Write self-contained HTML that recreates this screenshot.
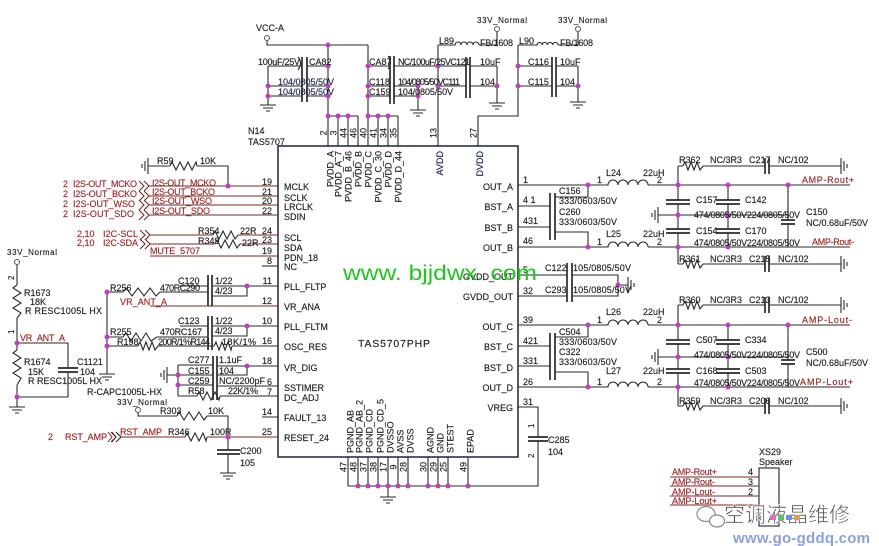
<!DOCTYPE html>
<html><head><meta charset="utf-8"><style>
html,body{margin:0;padding:0;background:#fff;}
svg{display:block}
text{font-family:"Liberation Sans",sans-serif;font-size:9px;fill:#222;stroke:#222;stroke-width:0.15}
.r{fill:#a02828;stroke:#a02828}
.n{fill:#1c2450;stroke:#1c2450}
.s{font-size:8px}
</style></head><body>
<svg width="879" height="546" viewBox="0 0 879 546" xmlns="http://www.w3.org/2000/svg">
<defs>
 <g id="gd"><path d="M0 0v7M-8 7h16M-5 10h10M-2 13h4"/></g>
 <g id="gl"><path d="M0 0h-5M-5 -8v16M-8 -5v10M-11 -2v4"/></g>
 <g id="gr"><path d="M0 0h5M5 -8v16M8 -5v10M11 -2v4"/></g>
</defs>
<rect width="879" height="546" fill="#fff"/>

<g stroke="#2a2a2a" fill="none" stroke-width="1.1">
<!-- TOP POWER -->
<path d="M267 41V45H368M328 45V146M268 66H302M307 66H328M268 86H302M307 86H328M268 96H302M307 96H328M268 66V98"/>
<use href="#gd" x="268" y="98"/>
<path d="M328 116H358M338 116V146M348 116V146M358 116V146"/>
<path d="M368 45V146M368 66H390M394 66H466M470 66H497M368 86H390M394 86H418M368 96H390M394 96H418M418 86V103"/>
<use href="#gd" x="418" y="103"/>
<path d="M368 116H398M378 116V146M388 116V146M398 116V146"/>
<path d="M438 45V146M438 45H455a3 3 0 0 1 6 0a3 3 0 0 1 6 0a3 3 0 0 1 6 0a3 3 0 0 1 6 0M479 45H497V32"/>
<path d="M438 86H466M470 86H497M497 66V96"/>
<use href="#gd" x="497" y="96"/>
<path d="M518 45V116H478V146M518 45H537a2.6 2.6 0 0 1 5.25 0a2.6 2.6 0 0 1 5.25 0a2.6 2.6 0 0 1 5.25 0a2.6 2.6 0 0 1 5.25 0M558 45H578V32"/>
<path d="M518 66H552M556 66H578M518 86H552M556 86H578M578 66V95"/>
<use href="#gd" x="578" y="95"/>
<path d="M298 57q5 6 0 13M388 56q5 6 0 13"/>
<path stroke-width="1.7" d="M302 57V102M307 57V102M390 56V104M394 56V104M466 57V98M470 57V98M552 57V97M556 57V97"/>

<!-- CHIP BOX -->
<rect x="278" y="146" width="240" height="311" stroke="#1c2040" stroke-width="1.5"/>

<!-- LEFT -->
<path d="M153 166H170"/><use href="#gl" x="153" y="166"/>
<polyline points="170,166 172,162 176,170 180,162 184,170 188,162 192,170 196,162 197,166"/>
<path d="M197 166H228V186"/>
<g stroke="#7a2a2a">
<path d="M139 181l5 5-5 5M144 181l5 5-5 5M149 186H278"/>
<path d="M139 191l5 5-5 5M144 191l5 5-5 5M149 196H278"/>
<path d="M139 200l5 5-5 5M144 200l5 5-5 5M149 205H278"/>
<path d="M139 210l5 5-5 5M144 210l5 5-5 5M149 215H278"/>
<path d="M140 230l5 5-5 5M145 230l5 5-5 5M150 235H213M238 235H278"/>
<path d="M140 239l5 5-5 5M145 239l5 5-5 5M150 244H215M240 244H278"/>
<path d="M150 256H278"/>
<path d="M150 306H278"/>
<path d="M121 437H185M207 437H278"/>
</g>
<polyline points="213,235 215,231 219,239 223,231 227,239 231,231 235,239 238,235"/>
<polyline points="215,244 217,240 221,248 225,240 229,248 233,240 237,248 240,244"/>
<path d="M262 266H278"/>
<!-- 3.3V left divider -->
<path d="M17 264.5V285"/>
<polyline points="17,285 13,288 21,293 13,298 21,303 13,308 21,313 17,318"/>
<path d="M17 318V350"/>
<polyline points="17,350 13,353 21,358 13,363 21,368 13,373 21,378 17,385"/>
<path d="M17 385V400M17 397H68V372M68 368V343H17"/>
<use href="#gd" x="17" y="400"/>
<path stroke-width="1.7" d="M58 368H78M58 372H78"/>
<!-- PLL -->
<path d="M107 290V367"/><use href="#gd" x="107" y="367"/>
<path d="M107 292H123M160 292H208"/>
<polyline points="123,292 126,288 132,296 138,288 144,296 150,288 156,296 160,292"/>
<path d="M180 286H208M212 286H278M212 296H247V286"/>
<path d="M107 337H123M157 337H208"/>
<polyline points="123,337 126,333 131,341 136,333 141,341 146,333 151,341 157,337"/>
<path d="M180 326H208M212 326H278M212 336H247V326"/>
<path d="M107 346H138M158 346H214M232 346H278"/>
<polyline points="138,346 140,342 143,350 146,342 149,350 152,342 155,350 158,346"/>
<polyline points="214,346 216,342 219,350 222,342 225,350 228,342 231,350 232,346"/>
<path stroke-width="1.7" d="M208 275V306M212 275V306M208 316V350M212 316V350"/>
<!-- VR_DIG -->
<path d="M172 375H178M178 365V396M178 365H213M178 375H213M178 385H213M178 396H197M220 396H278"/>
<use href="#gl" x="172" y="375"/>
<polyline points="197,396 199,392 203,400 207,392 211,400 215,392 219,400 220,396"/>
<path d="M217 366H278M217 375H247V366M217 386H278"/>
<path stroke-width="1.7" d="M213 356V400M217 356V400"/>
<!-- FAULT / RESET -->
<path d="M138 413V416H177M207 416H228V437M262 417H278"/>
<polyline points="177,416 179,412 184,420 189,412 194,420 199,412 204,420 207,416"/>
<path d="M111 432l5 5-5 5M116 432l5 5-5 5M228 437V450M228 454V466"/>
<polyline points="185,437 187,433 191,441 195,433 199,441 203,433 206,441 207,437"/>
<path stroke-width="1.7" d="M217 450H240M217 454H240"/>
<use href="#gd" x="228" y="466"/>

<!-- RIGHT A/B -->
<path d="M518 185H608a5 5 0 0 1 10 0a5 5 0 0 1 10 0a5 5 0 0 1 10 0a5 5 0 0 1 10 0M648 185H850"/>
<path d="M518 206H550M555 197H588V185M518 227H550M555 232H588V247"/>
<path stroke-width="1.7" d="M550 193V240M555 193V240"/>
<path d="M518 247H608a5 5 0 0 1 10 0a5 5 0 0 1 10 0a5 5 0 0 1 10 0a5 5 0 0 1 10 0M648 247H850"/>
<path d="M678 166V200M678 204V229M678 233V264M728 185V200M728 204V229M728 233V247M788 185V220M788 224V247M663 215H788"/>
<use href="#gl" x="663" y="215"/>
<path stroke-width="1.7" d="M666 200H690M666 204H690M666 229H690M666 233H690M716 200H740M716 204H740M716 229H740M716 233H740M781 220H795M781 224H795"/>
<path d="M678 166H683M703 166H765M769 166H836"/>
<polyline points="683,166 685,162 688,170 691,162 694,170 697,162 700,170 703,166"/>
<use href="#gr" x="836" y="166"/>
<path d="M678 264H683M703 264H765M769 264H836"/>
<polyline points="683,264 685,260 688,268 691,260 694,268 697,260 700,268 703,264"/>
<use href="#gr" x="836" y="264"/>
<path stroke-width="1.7" d="M765 158V174M769 158V174M765 256V272M769 256V272"/>
<!-- GVDD -->
<path d="M518 275H567M518 296H567M572 275H618V296H572M618 285H623"/>
<use href="#gr" x="623" y="285"/>
<path stroke-width="1.7" d="M567 263V302M572 263V302"/>
<!-- RIGHT C/D -->
<path d="M518 325H608a5 5 0 0 1 10 0a5 5 0 0 1 10 0a5 5 0 0 1 10 0a5 5 0 0 1 10 0M648 325H850"/>
<path d="M518 346H550M555 337H588V325M518 366H550M555 372H588V387"/>
<path stroke-width="1.7" d="M550 333V380M555 333V380"/>
<path d="M518 387H608a5 5 0 0 1 10 0a5 5 0 0 1 10 0a5 5 0 0 1 10 0a5 5 0 0 1 10 0M648 387H850"/>
<path d="M678 305V340M678 344V369M678 373V406M728 325V340M728 344V369M728 373V387M788 325V360M788 364V387M663 357H788"/>
<use href="#gl" x="663" y="357"/>
<path stroke-width="1.7" d="M666 340H690M666 344H690M666 369H690M666 373H690M716 340H740M716 344H740M716 369H740M716 373H740M781 360H795M781 364H795"/>
<path d="M678 305H683M703 305H765M769 305H836"/>
<polyline points="683,305 685,301 688,309 691,301 694,309 697,301 700,309 703,305"/>
<use href="#gr" x="836" y="305"/>
<path d="M678 406H683M703 406H765M769 406H836"/>
<polyline points="683,406 685,402 688,410 691,402 694,410 697,402 700,410 703,406"/>
<use href="#gr" x="836" y="406"/>
<path stroke-width="1.7" d="M765 297V313M769 297V313M765 398V414M769 398V414"/>
<!-- VREG / bottom -->
<path d="M518 407H538V437M538 441V486H348"/>
<path stroke-width="1.7" d="M528 437H548M528 441H548"/>
<path d="M348 457V486M358 457V486M368 457V486M378 457V486M388 457V486M398 457V486M408 457V486M428 457V486M438 457V486M448 457V486M468 457V486M388 486V490"/>
<use href="#gd" x="388" y="490"/>
<!-- speaker -->
<path d="M670 477H759M670 486H759M670 496H759M670 505H759" stroke="#7a2a2a"/>
<rect x="759" y="468" width="20" height="58" stroke="#1c2040"/>
</g>

<!-- power symbols -->
<g stroke="#555" fill="#fff" stroke-width="1">
<circle cx="267" cy="38" r="2.5"/><circle cx="497" cy="29" r="2.5"/><circle cx="578" cy="29" r="2.5"/>
<circle cx="17" cy="262" r="2.5"/><circle cx="138" cy="410" r="2.5"/>
</g>

<!-- junction dots -->
<g fill="#c23cc2">
<circle cx="328" cy="45" r="2.5"/><circle cx="328" cy="66" r="2.5"/><circle cx="328" cy="86" r="2.5"/><circle cx="328" cy="96" r="2.5"/>
<circle cx="268" cy="86" r="2.5"/><circle cx="268" cy="96" r="2.5"/><circle cx="328" cy="116" r="2.5"/><circle cx="338" cy="116" r="2.5"/><circle cx="348" cy="116" r="2.5"/>
<circle cx="368" cy="66" r="2.5"/><circle cx="368" cy="86" r="2.5"/><circle cx="368" cy="96" r="2.5"/><circle cx="418" cy="86" r="2.5"/><circle cx="418" cy="96" r="2.5"/>
<circle cx="368" cy="116" r="2.5"/><circle cx="378" cy="116" r="2.5"/><circle cx="388" cy="116" r="2.5"/>
<circle cx="438" cy="66" r="2.5"/><circle cx="438" cy="86" r="2.5"/><circle cx="497" cy="86" r="2.5"/>
<circle cx="518" cy="66" r="2.5"/><circle cx="518" cy="86" r="2.5"/><circle cx="578" cy="86" r="2.5"/>
<circle cx="228" cy="186" r="2.5"/><circle cx="17" cy="343" r="2.5"/><circle cx="17" cy="397" r="2.5"/>
<circle cx="107" cy="292" r="2.5"/><circle cx="107" cy="337" r="2.5"/><circle cx="107" cy="346" r="2.5"/>
<circle cx="247" cy="286" r="2.5"/><circle cx="247" cy="326" r="2.5"/><circle cx="178" cy="375" r="2.5"/><circle cx="178" cy="385" r="2.5"/>
<circle cx="247" cy="366" r="2.5"/><circle cx="228" cy="437" r="2.5"/>
<circle cx="588" cy="185" r="2.5"/><circle cx="678" cy="185" r="2.5"/><circle cx="728" cy="185" r="2.5"/><circle cx="788" cy="185" r="2.5"/>
<circle cx="678" cy="215" r="2.5"/><circle cx="728" cy="215" r="2.5"/>
<circle cx="588" cy="247" r="2.5"/><circle cx="678" cy="247" r="2.5"/><circle cx="728" cy="247" r="2.5"/>
<circle cx="618" cy="285" r="2.5"/>
<circle cx="588" cy="325" r="2.5"/><circle cx="678" cy="325" r="2.5"/><circle cx="728" cy="325" r="2.5"/><circle cx="788" cy="325" r="2.5"/>
<circle cx="678" cy="357" r="2.5"/><circle cx="728" cy="357" r="2.5"/>
<circle cx="588" cy="387" r="2.5"/><circle cx="678" cy="387" r="2.5"/><circle cx="728" cy="387" r="2.5"/>
<circle cx="358" cy="486" r="2.5"/><circle cx="368" cy="486" r="2.5"/><circle cx="378" cy="486" r="2.5"/><circle cx="388" cy="486" r="2.5"/>
<circle cx="398" cy="486" r="2.5"/><circle cx="408" cy="486" r="2.5"/><circle cx="428" cy="486" r="2.5"/><circle cx="438" cy="486" r="2.5"/>
<circle cx="448" cy="486" r="2.5"/><circle cx="468" cy="486" r="2.5"/>
</g>

<!-- TOP TEXT -->
<text x="256" y="31">VCC-A</text>
<text x="258" y="65" textLength="42">100uF/25V</text>
<text x="309" y="65">CA82</text>
<text x="278" y="85" class="n" textLength="56">104/0805/50V</text>
<text x="278" y="95" class="n" textLength="56">104/0805/50V</text>
<text x="369" y="65">CA87</text>
<text x="398" y="65" textLength="72">NC/100uF/25VC121</text>
<text x="369" y="85">C118</text>
<text x="369" y="95">C159</text>
<text x="398" y="85" textLength="62">104/0805/50VC111</text>
<text x="398" y="95" textLength="55">104/0805/50V</text>
<text x="439" y="44">L89</text>
<text x="480" y="46" textLength="33">FB/1608</text>
<text x="477" y="23" class="s" textLength="50">33V_Normal</text>
<text x="480" y="65">10uF</text>
<text x="480" y="85">104</text>
<text x="519" y="44">L90</text>
<text x="560" y="46" textLength="33">FB/1608</text>
<text x="558" y="23" class="s" textLength="49">33V_Normal</text>
<text x="528" y="65">C116</text>
<text x="528" y="85">C115</text>
<text x="560" y="65">10uF</text>
<text x="560" y="85">104</text>
<text x="248" y="134">N14</text>
<text x="248" y="145">TAS5707</text>

<!-- top pin numbers -->
<g text-anchor="middle">
<text transform="translate(326.5,133) rotate(-90)">2</text>
<text transform="translate(336.5,133) rotate(-90)">3</text>
<text transform="translate(346.5,133) rotate(-90)">44</text>
<text transform="translate(356.5,133) rotate(-90)">46</text>
<text transform="translate(366.5,133) rotate(-90)">40</text>
<text transform="translate(376.5,133) rotate(-90)">41</text>
<text transform="translate(386.5,133) rotate(-90)">34</text>
<text transform="translate(396.5,133) rotate(-90)">35</text>
<text transform="translate(436.5,133) rotate(-90)">13</text>
<text transform="translate(476.5,133) rotate(-90)">27</text>
</g>
<!-- top pin names -->
<g text-anchor="end">
<text transform="translate(333.5,151) rotate(-90)">PVDD_A</text>
<text transform="translate(341.5,151) rotate(-90)">PVDD_A_7</text>
<text transform="translate(351.5,151) rotate(-90)">PVDD_B_46</text>
<text transform="translate(361.5,151) rotate(-90)">PVDD_B</text>
<text transform="translate(371.5,151) rotate(-90)">PVDD_C</text>
<text transform="translate(381.5,151) rotate(-90)">PVDD_C_30</text>
<text transform="translate(391.5,151) rotate(-90)">PVDD_D</text>
<text transform="translate(401.5,151) rotate(-90)">PVDD_D_44</text>
<text transform="translate(443,151) rotate(-90)" class="n">AVDD</text>
<text transform="translate(483,151) rotate(-90)" class="n">DVDD</text>
</g>

<!-- box left labels -->
<text x="284" y="190">MCLK</text>
<text x="284" y="201">SCLK</text>
<text x="284" y="210">LRCLK</text>
<text x="284" y="220">SDIN</text>
<text x="284" y="241">SCL</text>
<text x="284" y="251">SDA</text>
<text x="284" y="261">PDN_18</text>
<text x="284" y="270">NC</text>
<text x="284" y="290">PLL_FLTP</text>
<text x="284" y="310">VR_ANA</text>
<text x="284" y="330">PLL_FLTM</text>
<text x="284" y="350">OSC_RES</text>
<text x="284" y="371">VR_DIG</text>
<text x="284" y="391">SSTIMER</text>
<text x="284" y="401">DC_ADJ</text>
<text x="284" y="421">FAULT_13</text>
<text x="284" y="441">RESET_24</text>
<!-- box right labels -->
<g text-anchor="end">
<text x="513" y="190">OUT_A</text>
<text x="513" y="210">BST_A</text>
<text x="513" y="231">BST_B</text>
<text x="513" y="251">OUT_B</text>
<text x="513" y="280">GVDD_OUT</text>
<text x="513" y="300">GVDD_OUT</text>
<text x="513" y="330">OUT_C</text>
<text x="513" y="350">BST_C</text>
<text x="513" y="371">BST_D</text>
<text x="513" y="391">OUT_D</text>
<text x="513" y="411">VREG</text>
</g>
<text x="358" y="347" style="font-size:10.5px" textLength="72">TAS5707PHP</text>

<!-- bottom pins -->
<g text-anchor="middle">
<text transform="translate(346.5,467) rotate(-90)">47</text>
<text transform="translate(356.5,467) rotate(-90)">48</text>
<text transform="translate(366.5,467) rotate(-90)">37</text>
<text transform="translate(376.5,467) rotate(-90)">38</text>
<text transform="translate(386.5,467) rotate(-90)">17</text>
<text transform="translate(396.5,467) rotate(-90)">9</text>
<text transform="translate(406.5,467) rotate(-90)">28</text>
<text transform="translate(426.5,467) rotate(-90)">30</text>
<text transform="translate(436.5,467) rotate(-90)">29</text>
<text transform="translate(446.5,467) rotate(-90)">25</text>
<text transform="translate(466.5,467) rotate(-90)">49</text>
</g>
<g>
<text transform="translate(353.5,453) rotate(-90)">PGND_AB</text>
<text transform="translate(362.5,453) rotate(-90)">PGND_AB_2</text>
<text transform="translate(372.5,453) rotate(-90)">PGND_CD</text>
<text transform="translate(383.5,453) rotate(-90)">PGND_CD_5</text>
<text transform="translate(393.5,453) rotate(-90)">DVSSO</text>
<text transform="translate(403.5,453) rotate(-90)">AVSS</text>
<text transform="translate(413.5,453) rotate(-90)">DVSS</text>
<text transform="translate(433.5,453) rotate(-90)">AGND</text>
<text transform="translate(443.5,453) rotate(-90)">GND</text>
<text transform="translate(453.5,453) rotate(-90)">STEST</text>
<text transform="translate(473.5,453) rotate(-90)">EPAD</text>
</g>

<!-- LEFT TEXT -->
<text x="157" y="164">R59</text>
<text x="200" y="164">10K</text>
<text x="63" y="187" class="r">2</text><text x="73" y="187" class="r" textLength="64">I2S-OUT_MCKO</text>
<text x="63" y="197" class="r">2</text><text x="73" y="197" class="r" textLength="64">I2S-OUT_BCKO</text>
<text x="63" y="207" class="r">2</text><text x="73" y="207" class="r" textLength="62">I2S-OUT_WSO</text>
<text x="63" y="217" class="r">2</text><text x="73" y="217" class="r" textLength="61">I2S-OUT_SDO</text>
<text x="152" y="186" class="r" textLength="64">I2S-OUT_MCKO</text>
<text x="152" y="195" class="r" textLength="63">I2S-OUT_BCKO</text>
<text x="152" y="204" class="r" textLength="60">I2S-OUT_WSO</text>
<text x="152" y="214" class="r" textLength="58">I2S-OUT_SDO</text>
<text x="77" y="237" class="r">2,10</text><text x="103" y="237" class="r" textLength="35">I2C-SCL</text>
<text x="77" y="246" class="r">2,10</text><text x="103" y="246" class="r" textLength="35">I2C-SDA</text>
<text x="198" y="234">R354</text><text x="240" y="234">22R</text>
<text x="198" y="244">R349</text><text x="242" y="246">22R</text>
<text x="150" y="254" class="r" textLength="50">MUTE_5707</text>
<g text-anchor="end">
<text x="272" y="185">19</text><text x="272" y="195">21</text><text x="272" y="204">20</text><text x="272" y="214">22</text>
<text x="272" y="234">24</text><text x="272" y="243">23</text><text x="272" y="254">19</text><text x="272" y="264">8</text>
<text x="272" y="284">11</text><text x="272" y="304">12</text><text x="272" y="324">10</text><text x="272" y="344">16</text>
<text x="272" y="364">18</text><text x="272" y="385">6</text><text x="272" y="395">7</text>
<text x="272" y="415">14</text><text x="272" y="435">25</text>
</g>
<text x="7" y="255" class="s" textLength="50">33V_Normal</text>
<text transform="translate(14,280) rotate(-90)" class="s">2</text>
<text transform="translate(14,334) rotate(-90)" class="s">1</text>
<text x="24" y="296">R1673</text>
<text x="30" y="305">18K</text>
<text x="25" y="314" textLength="77">R RESC1005L HX</text>
<text x="20" y="341" class="r" textLength="45">VR_ANT_A</text>
<text x="24" y="365">R1674</text>
<text x="28" y="375">15K</text>
<text x="28" y="384" textLength="74">R RESC1005L HX</text>
<text x="77" y="365">C1121</text>
<text x="80" y="375">104</text>
<text x="87" y="395" textLength="75">R-CAPC1005L-HX</text>
<text x="178" y="284">C120</text>
<text x="215" y="284">1/22</text>
<text x="110" y="291">R256</text>
<text x="160" y="291" textLength="40">470RC290</text>
<text x="215" y="294">4/23</text>
<text x="120" y="305" class="r" textLength="47">VR_ANT_A</text>
<text x="178" y="324">C123</text>
<text x="215" y="324">1/22</text>
<text x="110" y="335">R255</text>
<text x="160" y="335" textLength="42">470RC167</text>
<text x="215" y="334">4/23</text>
<text x="117" y="345">R198</text>
<text x="158" y="345" textLength="52">200R/1%R144</text>
<text x="222" y="345" textLength="34">18K/1%</text>
<text x="188" y="363">C277</text>
<text x="219" y="363">1.1uF</text>
<text x="188" y="374">C155</text>
<text x="219" y="374">104</text>
<text x="188" y="384">C259</text>
<text x="219" y="384" textLength="46">NC/2200pF</text>
<text x="188" y="394">R58</text>
<text x="228" y="394" textLength="30">22K/1%</text>
<text x="117" y="405" class="s" textLength="50">33V_Normal</text>
<text x="160" y="414">R303</text>
<text x="208" y="414">10K</text>
<text x="48" y="440" class="r">2</text>
<text x="65" y="440" class="r" textLength="42">RST_AMP</text>
<path d="M108 432l4 5-4 5M112 432l4 5-4 5" stroke="#7a2a2a" fill="none"/>
<text x="120" y="435" class="r" textLength="42">RST_AMP</text>
<text x="168" y="435">R346</text>
<text x="210" y="435">100R</text>
<text x="240" y="454">C200</text>
<text x="240" y="466">105</text>

<!-- RIGHT TEXT -->
<text x="523" y="183">1</text>
<text x="523" y="203">4 1</text>
<text x="523" y="224">431</text>
<text x="523" y="244">46</text>
<text x="523" y="273">5</text>
<text x="523" y="294">32</text>
<text x="523" y="323">39</text>
<text x="523" y="344">421</text>
<text x="523" y="364">331</text>
<text x="523" y="385">26</text>
<text x="523" y="405">31</text>
<text x="606" y="176">L24</text><text x="643" y="176">22uH</text><text x="597" y="183">1</text><text x="657" y="183">2</text>
<text x="606" y="237">L25</text><text x="643" y="237">22uH</text><text x="597" y="245">1</text><text x="657" y="245">2</text>
<text x="606" y="315">L26</text><text x="643" y="315">22uH</text><text x="597" y="323">1</text><text x="657" y="323">2</text>
<text x="606" y="374">L27</text><text x="643" y="374">22uH</text><text x="597" y="385">1</text><text x="657" y="385">2</text>
<text x="559" y="194">C156</text><text x="559" y="204" textLength="58">333/0603/50V</text>
<text x="559" y="215">C260</text><text x="559" y="225" textLength="58">333/0603/50V</text>
<text x="559" y="335">C504</text><text x="559" y="345" textLength="58">333/0603/50V</text>
<text x="559" y="355">C322</text><text x="559" y="365" textLength="58">333/0603/50V</text>
<text x="545" y="271">C122</text><text x="573" y="271" textLength="58">105/0805/50V</text>
<text x="545" y="293">C293</text><text x="573" y="293" textLength="58">105/0805/50V</text>
<text x="679" y="163">R362</text><text x="710" y="163">NC/3R3</text><text x="749" y="163">C217</text><text x="778" y="163">NC/102</text>
<text x="679" y="262">R361</text><text x="710" y="262">NC/3R3</text><text x="749" y="262">C215</text><text x="778" y="262">NC/102</text>
<text x="679" y="303">R360</text><text x="710" y="303">NC/3R3</text><text x="749" y="303">C213</text><text x="778" y="303">NC/102</text>
<text x="679" y="404">R359</text><text x="710" y="404">NC/3R3</text><text x="749" y="404">C206</text><text x="778" y="404">NC/102</text>
<text x="696" y="203">C157</text><text x="745" y="203">C142</text>
<text x="694" y="218" textLength="106">474/0805/50V224/0805/50V</text>
<text x="696" y="234">C154</text><text x="745" y="234">C170</text>
<text x="694" y="246" textLength="106">474/0805/50V224/0805/50V</text>
<text x="696" y="343">C507</text><text x="745" y="343">C334</text>
<text x="694" y="358" textLength="106">474/0805/50V224/0805/50V</text>
<text x="696" y="374">C168</text><text x="745" y="374">C503</text>
<text x="694" y="386" textLength="106">474/0805/50V224/0805/50V</text>
<text x="806" y="215">C150</text><text x="806" y="226" textLength="62">NC/0.68uF/50V</text>
<text x="806" y="355">C500</text><text x="806" y="366" textLength="62">NC/0.68uF/50V</text>
<text x="802" y="183" class="r" textLength="52">AMP-Rout+</text>
<text x="812" y="245" class="r" textLength="42">AMP-Rout-</text>
<text x="802" y="323" class="r" textLength="50">AMP-Lout-</text>
<text x="800" y="385" class="r" textLength="53">AMP-Lout+</text>
<text x="548" y="443">C285</text>
<text x="548" y="455">104</text>
<text transform="translate(534,428) rotate(-90)" class="s">1</text>
<text transform="translate(534,458) rotate(-90)" class="s">2</text>

<!-- speaker -->
<text x="759" y="455">XS29</text>
<text x="759" y="465">Speaker</text>
<text x="748" y="475">4</text><text x="748" y="485">3</text><text x="748" y="495">2</text>
<text x="672" y="475" class="r" textLength="45">AMP-Rout+</text>
<text x="672" y="485" class="r" textLength="43">AMP-Rout-</text>
<text x="672" y="495" class="r" textLength="43">AMP-Lout-</text>
<text x="672" y="504" class="r" textLength="45">AMP-Lout+</text>

<!-- watermarks -->
<text x="343" y="280" style="font-size:21px;fill:#1ec81e;stroke:none" textLength="194" lengthAdjust="spacingAndGlyphs">www. bjjdwx. com</text>
<g stroke="#8a8a8a" fill="#fff" stroke-width="1.2">
<ellipse cx="706" cy="514" rx="9" ry="7.5"/>
<ellipse cx="717" cy="521" rx="7.5" ry="6"/>
</g>
<text x="724" y="522" style="font-size:21px;fill:#4a4a4a;stroke:#fff;stroke-width:0.6;font-family:'Liberation Sans','Noto Sans CJK SC',sans-serif" textLength="126">空调液晶维修</text>
<g>
<rect x="770" y="515" width="6" height="5" fill="#e070c0"/>
<rect x="778" y="515" width="6" height="5" fill="#60c060"/>
<rect x="786" y="515" width="6" height="5" fill="#7090e0"/>
<rect x="794" y="515" width="6" height="5" fill="#e0a050"/>
</g>
<text x="733" y="543" style="font-size:15px;font-weight:bold;fill:#8c9fe0;stroke:none" textLength="137">www.go-gddq.com</text>
</svg>
</body></html>
